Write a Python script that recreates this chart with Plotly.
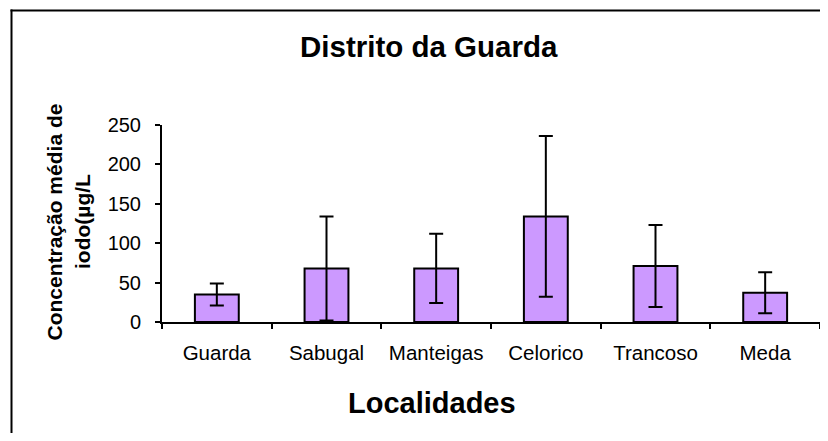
import plotly.graph_objects as go

categories = ["Guarda", "Sabugal", "Manteigas", "Celorico", "Trancoso", "Meda"]
mean_iodo = [35, 68, 68, 134, 71, 37]
error_iodo = [14, 66, 44, 102, 52, 26]
y_ticks = [0, 50, 100, 150, 200, 250]

# The page body keeps its default 8px margin; the figure is sized so it never overflows.
OFF = 8
W, H = 828 - 2 * OFF, 441 - 2 * OFF
L, R, T = 162 - OFF, 0, 125 - OFF
PH = 197
B = H - T - PH
PW = W - L - R

def px(x):
    return (x - OFF - L) / PW

def py(y):
    return (H - B - (y - OFF)) / PH

FONT = "Liberation Sans, Arial, sans-serif"

fig = go.Figure(go.Bar(
    x=categories, y=mean_iodo,
    marker=dict(color="#CC99FF", line=dict(color="black", width=2)),
    error_y=dict(type="data", array=error_iodo, visible=True,
                 color="black", thickness=2, width=7),
))

fig.update_layout(
    width=W, height=H,
    margin=dict(l=L, r=R, t=T, b=B),
    paper_bgcolor="white", plot_bgcolor="white",
    bargap=0.6, showlegend=False, hovermode=False, dragmode=False,
    font=dict(family=FONT, color="black"),
    xaxis=dict(type="category", range=[-0.5, 5.5], showline=True, linecolor="black",
               linewidth=2, ticks="outside", ticklen=5, tickwidth=2, tickcolor="black",
               tickson="boundaries", showgrid=False, tickfont=dict(size=20.5),
               ticklabelstandoff=11, fixedrange=True),
    yaxis=dict(range=[0, 250], tickvals=y_ticks, showline=True, linecolor="black",
               linewidth=2, ticks="outside", ticklen=5, tickwidth=2, tickcolor="black",
               showgrid=False, zeroline=False, tickfont=dict(size=20),
               ticklabelstandoff=10, fixedrange=True),
    shapes=[
        dict(type="line", xref="paper", yref="paper",
             x0=px(10.5), x1=px(900), y0=py(10.5), y1=py(10.5),
             line=dict(color="black", width=2), layer="below"),
        dict(type="line", xref="paper", yref="paper",
             x0=px(11.5), x1=px(11.5), y0=py(9.5), y1=py(500),
             line=dict(color="black", width=2), layer="below"),
    ],
    annotations=[
        dict(text="<b>Distrito da Guarda</b>", xref="paper", yref="paper",
             x=px(429), y=py(47), showarrow=False, font=dict(size=29.5),
             xanchor="center", yanchor="middle"),
        dict(text="<b>Localidades</b>", xref="paper", yref="paper",
             x=px(431.7), y=py(403), showarrow=False, font=dict(size=29),
             xanchor="center", yanchor="middle"),
        dict(text="<b>Concentração média de</b>", xref="paper", yref="paper",
             x=px(53.5), y=py(222), showarrow=False, font=dict(size=21),
             textangle=-90, xanchor="center", yanchor="middle"),
        dict(text="<b>iodo(µg/L</b>", xref="paper", yref="paper",
             x=px(82), y=py(222), showarrow=False, font=dict(size=21),
             textangle=-90, xanchor="center", yanchor="middle"),
    ],
)

fig.write_html("out.html", config={"displayModeBar": False, "staticPlot": True})
